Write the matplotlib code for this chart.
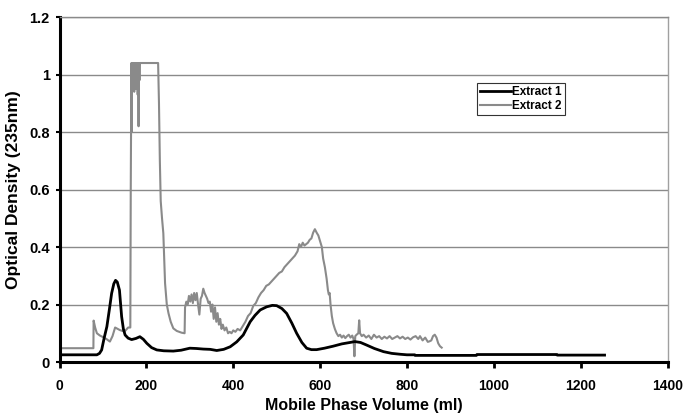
import matplotlib
matplotlib.use("Agg")
import matplotlib.pyplot as plt
from matplotlib.ticker import FuncFormatter

plt.rcParams['font.family'] = ['Liberation Sans', 'DejaVu Sans']
plt.rcParams['font.weight'] = 'bold'

# Extract 1 (black)
vol_1 = [0, 86, 92, 97, 103, 109, 115, 120, 125, 129, 133, 138, 143, 147, 151, 158, 166,
         176, 185, 193, 201, 212, 224, 240, 262, 280, 300, 315, 331, 347, 362, 378, 393,
         408, 423, 439, 450, 462, 477, 490, 500, 512, 523, 535, 546, 558, 569, 580, 592,
         610, 630, 650, 669, 680, 693, 707, 725, 746, 765, 784, 800, 818, 819, 960, 961,
         1145, 1146, 1255]
od_1 = [0.025, 0.025, 0.03, 0.042, 0.085, 0.123, 0.185, 0.239, 0.272, 0.284, 0.278, 0.25,
        0.158, 0.115, 0.094, 0.083, 0.078, 0.082, 0.088, 0.079, 0.065, 0.05, 0.042, 0.039,
        0.038, 0.041, 0.048, 0.047, 0.045, 0.044, 0.04, 0.044, 0.053, 0.07, 0.094, 0.14,
        0.162, 0.181, 0.192, 0.197, 0.196, 0.186, 0.169, 0.135, 0.1, 0.068, 0.048, 0.043,
        0.043, 0.048, 0.055, 0.063, 0.068, 0.071, 0.068, 0.059, 0.047, 0.036, 0.03, 0.027,
        0.025, 0.025, 0.023, 0.023, 0.026, 0.026, 0.024, 0.024]

# Extract 2 (grey)
vol_2 = [0, 78, 78.5, 82, 86, 93, 101, 108, 116, 122, 128, 134, 139, 145, 151, 158, 163,
         164, 165.5, 166, 167, 168, 169, 170, 171, 172, 173, 174, 175, 176, 177, 178, 179,
         180, 181, 182, 183, 184, 185, 200, 227, 229, 231, 233, 236, 239, 243, 247, 251,
         256, 262, 270, 281, 287, 288, 289, 292, 295, 298, 301, 304, 307, 310, 313, 316,
         319, 322, 325, 328, 331, 334, 337, 340, 343, 346, 349, 352, 355, 358, 361, 364,
         367, 370, 373, 376, 380, 384, 388, 392, 396, 400, 405, 410, 416, 422, 428, 434,
         440, 446, 452, 458, 464, 470, 476, 482, 488, 494, 500, 506, 512, 518, 524, 530,
         536, 542, 548, 552, 556, 560, 564, 568, 572, 576, 580, 584, 588, 592, 596, 600,
         604, 607, 611, 615, 618, 620, 622, 624, 627, 630, 634, 638, 642, 646, 650, 654,
         658, 662, 666, 670, 674, 677, 679, 681, 684, 688, 690, 692, 696, 700, 706, 712,
         718, 724, 730, 736, 742, 748, 754, 760, 766, 772, 778, 784, 790, 796, 802, 808,
         814, 820, 826, 830, 836, 842, 848, 852, 856, 860, 864, 868, 872, 876, 880]
od_2 = [0.048, 0.048, 0.144, 0.12, 0.1, 0.092, 0.086, 0.08, 0.071, 0.09, 0.12, 0.115,
        0.111, 0.108, 0.108, 0.12, 0.12, 0.6, 1.04, 0.8, 1.04, 0.95, 1.04, 0.96, 1.04,
        0.94, 1.04, 0.97, 1.04, 0.95, 1.04, 0.96, 1.04, 0.93, 1.04, 0.82, 1.04, 0.98, 1.04,
        1.04, 1.04, 0.9, 0.7, 0.56, 0.5, 0.448, 0.274, 0.2, 0.169, 0.14, 0.117, 0.108, 0.102,
        0.1, 0.1, 0.19, 0.21, 0.2, 0.23, 0.21, 0.235, 0.205, 0.24, 0.215, 0.24, 0.2, 0.165,
        0.22, 0.23, 0.255, 0.24, 0.23, 0.22, 0.205, 0.21, 0.175, 0.2, 0.15, 0.19, 0.14,
        0.17, 0.13, 0.15, 0.115, 0.13, 0.11, 0.12, 0.1, 0.105, 0.1, 0.11, 0.105, 0.115,
        0.11, 0.125, 0.14, 0.16, 0.17, 0.195, 0.205, 0.225, 0.24, 0.25, 0.265, 0.27, 0.28,
        0.29, 0.3, 0.31, 0.315, 0.33, 0.34, 0.35, 0.36, 0.37, 0.385, 0.41, 0.4, 0.415,
        0.405, 0.41, 0.415, 0.425, 0.43, 0.45, 0.462, 0.45, 0.44, 0.42, 0.4, 0.36, 0.33,
        0.29, 0.25, 0.235, 0.24, 0.2, 0.16, 0.135, 0.115, 0.1, 0.09, 0.095, 0.085, 0.092,
        0.083, 0.09, 0.095, 0.085, 0.092, 0.08, 0.02, 0.09, 0.095, 0.1, 0.145, 0.1, 0.09,
        0.095, 0.085, 0.092, 0.08, 0.095, 0.085, 0.09, 0.08, 0.088, 0.082, 0.09, 0.08,
        0.085, 0.09, 0.082, 0.088, 0.08, 0.085, 0.078, 0.086, 0.09, 0.08, 0.09, 0.075,
        0.085, 0.07, 0.072, 0.075, 0.09, 0.095, 0.085, 0.065, 0.055, 0.05]

x_ticks = [0, 200, 400, 600, 800, 1000, 1200, 1400]
y_ticks = [0, 0.2, 0.4, 0.6, 0.8, 1.0, 1.2]

fig = plt.figure(figsize=(6.85, 4.16), dpi=100)
ax = fig.add_axes([0.0869, 0.1298, 0.8876, 0.8293])

ax.set_axisbelow(True)
ax.yaxis.grid(True, color='#8a8a8a', linewidth=1.0)
ax.plot(vol_2, od_2, color='#8a8a8a', linewidth=1.5, label='Extract 2', zorder=2)
ax.plot(vol_1, od_1, color='black', linewidth=2.0, label='Extract 1', zorder=3)

ax.set_xlim(0, 1400)
ax.set_ylim(0, 1.2)
ax.set_xticks(x_ticks)
ax.set_yticks(y_ticks)
ax.yaxis.set_major_formatter(FuncFormatter(lambda v, p: '%g' % v))

ax.spines['left'].set_linewidth(2.2)
ax.spines['bottom'].set_linewidth(2.2)
ax.spines['top'].set_color('#8a8a8a')
ax.spines['top'].set_linewidth(1.0)
ax.spines['right'].set_color('#a0a0a0')
ax.spines['right'].set_linewidth(1.0)
ax.tick_params(axis='x', direction='out', length=4, width=2, labelsize=10, pad=8)
ax.tick_params(axis='y', direction='out', length=3, width=1.5, labelsize=10.5, pad=4)
for lab in ax.get_xticklabels() + ax.get_yticklabels():
    lab.set_fontweight('bold')

ax.set_xlabel('Mobile Phase Volume (ml)', fontsize=11.5, fontweight='bold', labelpad=4)
ax.set_ylabel('Optical Density (235nm)', fontsize=12.5, fontweight='bold', labelpad=6)

handles, labels = ax.get_legend_handles_labels()
leg = ax.legend(handles[::-1], labels[::-1], loc='upper left', bbox_to_anchor=(0.687, 0.809),
                fancybox=False, framealpha=1, edgecolor='#333333', fontsize=8.5,
                handlelength=2.6, handletextpad=0.1, borderpad=0.25, labelspacing=0.2,
                borderaxespad=0)
leg.get_frame().set_linewidth(0.8)
for t in leg.get_texts():
    t.set_fontweight('bold')

fig.savefig('out.png', dpi=100)
